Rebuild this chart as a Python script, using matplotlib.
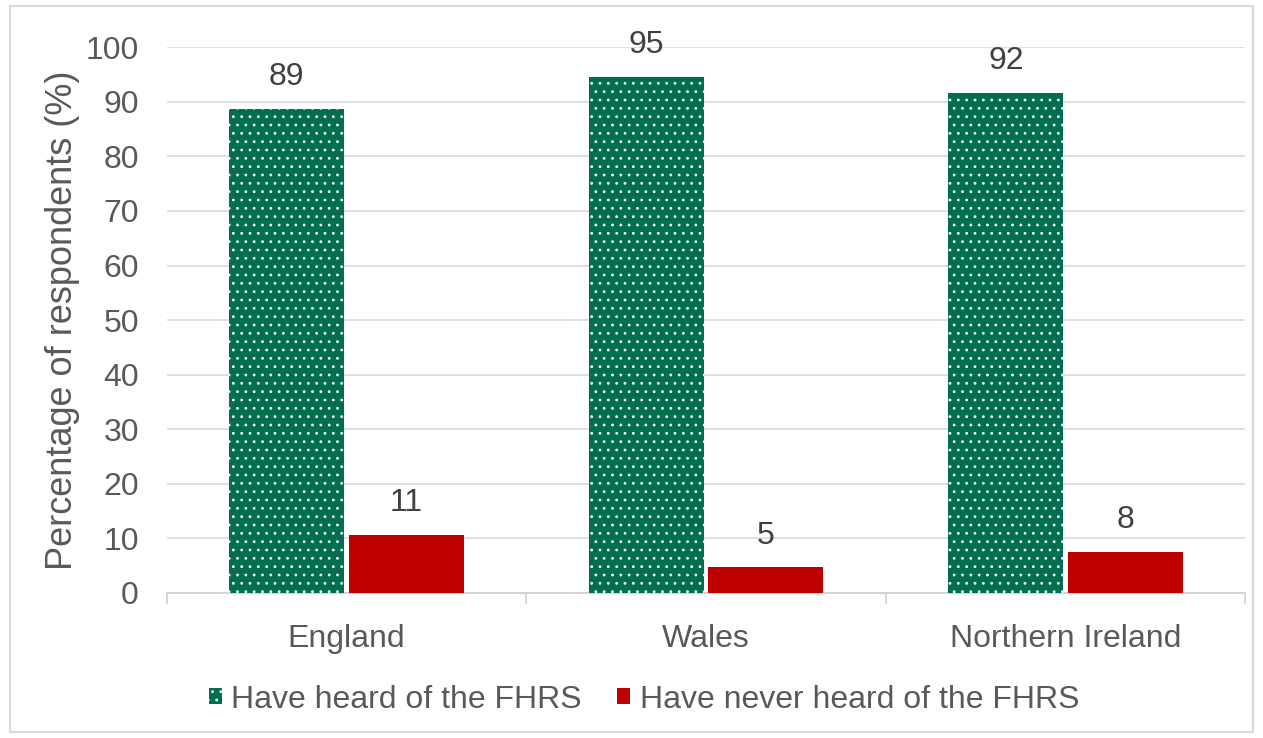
import matplotlib.pyplot as plt
import matplotlib.patches as mpatches
import numpy as np

plt.rcParams['font.family'] = ['Liberation Sans', 'DejaVu Sans']
plt.rcParams['hatch.linewidth'] = 0.8

countries = ['England', 'Wales', 'Northern Ireland']
heard = [88.7, 94.6, 91.7]
never_heard = [10.6, 4.7, 7.6]
heard_labels = ['89', '95', '92']
never_labels = ['11', '5', '8']

green = '#006e4f'
red = '#c00000'
grey_text = '#595959'
fs = 23

fig = plt.figure(figsize=(12.63, 7.38), dpi=100)
ax = fig.add_axes([0.132, 0.1965, 0.854, 0.7395])

x = np.arange(len(countries))
w = 0.32
gap = 0.006
b1 = ax.bar(x - w / 2 - gap, heard, w, color=green, edgecolor='white', linewidth=0, hatch='..', zorder=3)
b2 = ax.bar(x + w / 2 + gap, never_heard, w, color=red, linewidth=0, zorder=3)

for bars, labs in [(b1, heard_labels), (b2, never_labels)]:
    for rect, lab in zip(bars, labs):
        ax.annotate(lab, (rect.get_x() + rect.get_width() / 2, rect.get_height()),
                    xytext=(0, 12), textcoords='offset points',
                    ha='center', va='bottom', fontsize=fs, color='#404040')

ax.set_ylim(0, 100)
ax.set_xlim(-0.5, 2.5)
ax.set_yticks(range(0, 101, 10))
ax.yaxis.grid(True, color='#d9d9d9', linewidth=1.2, zorder=0)
ax.set_axisbelow(True)

ax.set_xticks(x)
ax.set_xticklabels(countries)
ax.set_xticks([-0.5, 0.5, 1.5, 2.5], minor=True)
ax.tick_params(axis='x', which='major', length=0, pad=22, labelsize=fs, labelcolor=grey_text)
ax.tick_params(axis='x', which='minor', length=8, color='#d0d0d0', width=1.2)
ax.tick_params(axis='y', length=0, pad=20, labelsize=fs, labelcolor=grey_text)

for s in ['top', 'right', 'left']:
    ax.spines[s].set_visible(False)
ax.spines['bottom'].set_color('#d0d0d0')
ax.spines['bottom'].set_linewidth(1.2)

ax.set_ylabel('Percentage of respondents (%)', fontsize=26, color=grey_text, labelpad=4)

h1 = mpatches.Patch(facecolor=green, edgecolor='white', linewidth=0, hatch='..', label='Have heard of the FHRS')
h2 = mpatches.Patch(facecolor=red, linewidth=0, label='Have never heard of the FHRS')
fig.legend(handles=[h1, h2], loc='center', bbox_to_anchor=(0.51, 0.052), ncol=2, frameon=False,
           fontsize=fs, labelcolor=grey_text, handlelength=0.4, handleheight=0.4,
           handletextpad=0.3, columnspacing=1.1)

fig.add_artist(mpatches.Rectangle((0.008, 0.008), 0.984, 0.984, transform=fig.transFigure,
                                  fill=False, edgecolor='#d9d9d9', linewidth=1.5))

fig.savefig('out.png', dpi=100)
